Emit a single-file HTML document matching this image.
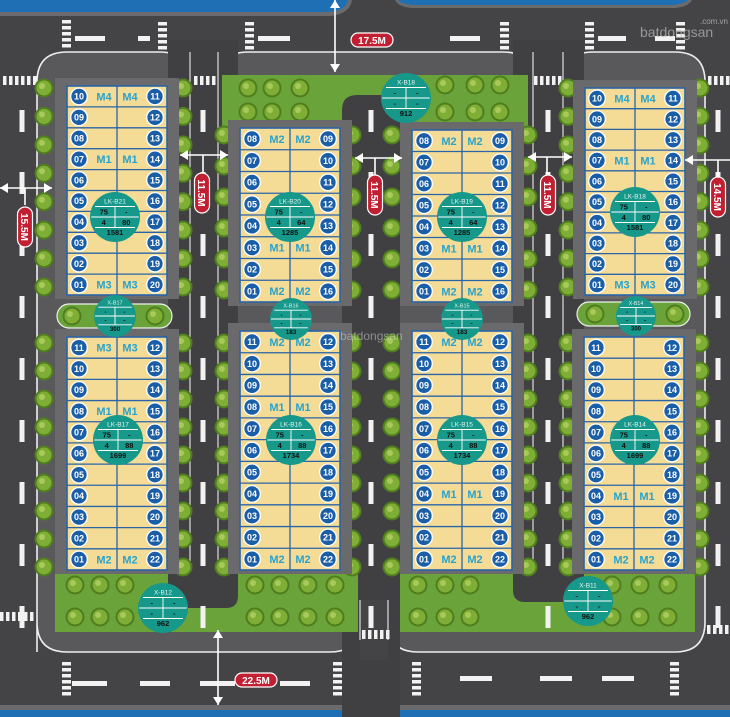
<!DOCTYPE html>
<html><head><meta charset="utf-8"><style>
html,body{margin:0;padding:0;background:#454547;}
svg{display:block}
text{font-family:"Liberation Sans",sans-serif;}
</style></head><body>
<svg id="s" width="730" height="717" viewBox="0 0 730 717" xmlns="http://www.w3.org/2000/svg"></svg>
<script>
var o=[];
function a(s){o.push(s);}
// background road
a('<rect x="0" y="0" width="730" height="717" fill="#444446"/>');
// blue top
a('<path d="M0 0 H352 Q350 14 330 16 H0 Z" fill="#6b6b6d"/>');
a('<path d="M0 0 H348 Q346 11 328 12 H0 Z" fill="#1f6fb5"/>');
a('<path d="M395 0 H692 Q688 7 675 8 H412 Q398 7 395 0Z" fill="#6b6b6d"/>');
a('<path d="M398 0 H688 Q684 4 672 5 H414 Q401 4 398 0Z" fill="#1f6fb5"/>');
// blue bottom
a('<rect x="0" y="705" width="730" height="12" fill="#6b6b6d"/>');
a('<rect x="0" y="710" width="730" height="7" fill="#1f6fb5"/>');
// islands
var isl='fill="#59595b" stroke="#eeeeee" stroke-width="1.6"';
a('<path d="M37 652 V82 Q37 52 67 52 H160 Q190 52 190 82 V570 H218 V82 Q218 52 248 52 H503 Q533 52 533 82 V570 H563 V82 Q563 52 593 52 H675 Q705 52 705 82 V622 Q705 652 675 652 H418 Q388 652 388 622 V600 H360 V622 Q360 652 330 652 H67 Q37 652 37 622Z" '+isl+'/>');
// road cutouts
a('<path d="M168 40 V596 Q168 608 180 608 H226 Q238 608 238 596 V40Z" fill="#404042"/>');
a('<path d="M513 40 V590 Q513 602 525 602 H572 Q584 602 584 590 V40Z" fill="#404042"/>');
a('<path d="M342 717 V110 Q342 95 357 95 H385 Q400 95 400 110 V717Z" fill="#404042"/>');
a('<rect x="360" y="600" width="28" height="60" fill="#444446"/>');
// curb lines
[[190,52,570],[218,52,570],[533,52,570],[563,52,570]].forEach(function(l){a('<line x1="'+l[0]+'" y1="'+l[1]+'" x2="'+l[0]+'" y2="'+l[2]+'" stroke="#dddddd" stroke-width="1.2"/>');});
a('<line x1="360" y1="600" x2="360" y2="640" stroke="#ddd" stroke-width="1.2"/><line x1="388" y1="600" x2="388" y2="640" stroke="#ddd" stroke-width="1.2"/>');
// green parks
var g='#6aa33a';
a('<path d="M222 75 H528 V128 H400 V110 Q400 95 385 95 H357 Q342 95 342 110 V128 H222Z" fill="'+g+'"/>');
a('<path d="M55 570 H168 V596 Q168 608 180 608 H226 Q238 608 238 596 V570 H358 V632 H55Z" fill="'+g+'"/>');
a('<path d="M400 570 H513 V590 Q513 602 525 602 H572 Q584 602 584 590 V570 H695 V632 H400Z" fill="'+g+'"/>');
a('<rect x="57" y="304" width="115" height="24" rx="12" fill="'+g+'" stroke="#eee" stroke-width="1.2"/>');
a('<rect x="577" y="302" width="113" height="24" rx="12" fill="'+g+'" stroke="#eee" stroke-width="1.2"/>');
// road markings
function r(x,y,w,h){a('<rect x="'+x+'" y="'+y+'" width="'+w+'" height="'+h+'" fill="#f2f2f2"/>');}
[[75,30],[138,12],[258,32],[450,30],[598,28],[655,20]].forEach(function(d){r(d[0],36,d[1],5);});
[[72,35],[140,30],[200,35],[280,30]].forEach(function(d){r(d[0],681,d[1],5);});
[[460,32],[540,32],[602,32]].forEach(function(d){r(d[0],676,d[1],5);});
function cwV(x,y,n){for(var i=0;i<n;i++)r(x,y+i*6,9,3.5);}
function cwH(x,y,n){for(var i=0;i<n;i++)r(x+i*6,y,3.5,9);}
cwV(62,20,5);cwV(158,22,5);cwV(245,22,5);cwV(500,22,5);cwV(585,22,5);cwV(676,22,5);
cwV(62,662,6);cwV(333,662,6);cwV(412,662,6);cwV(670,662,6);
cwH(3,76,6);cwH(194,76,4);cwH(534,76,5);cwH(708,76,4);cwH(0,612,6);cwH(362,630,5);cwH(707,625,4);
// vertical dashes
[22,203,371,548,718].forEach(function(x){for(var y=110;y<640;y+=62)r(x-2.5,y,5,22);});
// block pads
function pad(x,y,w,h){a('<rect x="'+(x-12)+'" y="'+(y-8)+'" width="'+(w+24)+'" height="'+(h+12)+'" fill="#6a6a6c"/>');}
// trees
function tree(x,y){a('<circle cx="'+x+'" cy="'+y+'" r="9.5" fill="#4f7d1f"/><circle cx="'+x+'" cy="'+y+'" r="7.5" fill="#7fae36"/><circle cx="'+(x-2)+'" cy="'+(y-2)+'" r="3" fill="#a9c95a"/>');}
function trees(x,y0,y1,n){for(var i=0;i<n;i++)tree(x,y0+(y1-y0)*i/(n-1));}
// blocks
function num(x,y,t){a('<circle cx="'+x+'" cy="'+y+'" r="8.3" fill="#1b5ea8" stroke="#fff" stroke-width="1.3"/><text x="'+x+'" y="'+(y+3.2)+'" font-size="9" font-weight="bold" fill="#fff" text-anchor="middle">'+t+'</text>');}
function p2(n){return (n<10?'0':'')+n;}
function block(x,y,w,h,n,leftStart,rightStart,labels){
 pad(x,y,w,h);
 a('<rect x="'+x+'" y="'+y+'" width="'+w+'" height="'+h+'" fill="#f4dc96" stroke="#2a64a8" stroke-width="1.6"/>');
 var rh=h/n;
 for(var i=1;i<n;i++)a('<line x1="'+x+'" y1="'+(y+i*rh)+'" x2="'+(x+w)+'" y2="'+(y+i*rh)+'" stroke="#2a64a8" stroke-width="1.3"/>');
 a('<line x1="'+(x+w/2)+'" y1="'+y+'" x2="'+(x+w/2)+'" y2="'+(y+h)+'" stroke="#2a64a8" stroke-width="1.3"/>');
 for(var i=0;i<n;i++){var cy=y+rh*i+rh/2;num(x+12,cy,p2(leftStart-i));num(x+w-12,cy,p2(rightStart+i));
  if(labels[i]){a('<text x="'+(x+w/2-13)+'" y="'+(cy+4)+'" font-size="11" font-weight="bold" fill="#2aa3cc" text-anchor="middle">'+labels[i]+'</text><text x="'+(x+w/2+13)+'" y="'+(cy+4)+'" font-size="11" font-weight="bold" fill="#2aa3cc" text-anchor="middle">'+labels[i]+'</text>');}}
}
// trees first (under blocks? they are beside)
trees(44,88,287,8);trees(183,88,287,8);
trees(44,343,567,9);trees(183,343,567,9);
trees(224,135,290,6);trees(352,135,290,6);
trees(224,343,567,9);trees(352,343,567,9);
trees(392,135,290,6);trees(528,135,290,6);
trees(392,343,567,9);trees(528,343,567,9);
trees(568,88,287,8);trees(700,88,287,8);
trees(568,343,567,9);trees(700,343,567,9);
// park trees
[[248,88],[272,88],[300,88],[248,112],[272,112],[300,112],[445,85],[475,85],[500,85],[445,112],[475,112],[500,112],[75,585],[100,585],[125,585],[75,617],[100,617],[125,617],[255,585],[280,585],[308,585],[335,585],[255,617],[280,617],[308,617],[335,617],[418,585],[445,585],[470,585],[418,617],[445,617],[470,617],[612,585],[640,585],[668,585],[612,617],[640,617],[668,617],[72,316],[155,316],[595,314],[675,314]].forEach(function(t){tree(t[0],t[1]);});
block(67,86,100,209,10,10,11,{0:'M4',3:'M1',9:'M3'});
block(67,337,100,233,11,11,12,{0:'M3',3:'M1',10:'M2'});
block(240,128,100,174,8,8,9,{0:'M2',5:'M1',7:'M2'});
block(240,331,100,239,11,11,12,{0:'M2',3:'M1',10:'M2'});
block(412,130,100,172,8,8,9,{0:'M2',5:'M1',7:'M2'});
block(412,331,100,239,11,11,12,{0:'M2',7:'M1',10:'M2'});
block(585,88,100,207,10,10,11,{0:'M4',3:'M1',9:'M3'});
block(584,337,100,233,11,11,12,{7:'M1',10:'M2'});
// circles
function circ(cx,cy,rr,name,c,bot){
 a('<circle cx="'+cx+'" cy="'+cy+'" r="'+rr+'" fill="#16988a"/>');
 var fs=rr*0.26;
 a('<text x="'+cx+'" y="'+(cy-rr*0.55)+'" font-size="'+fs+'" fill="#e8f5f2" text-anchor="middle">'+name+'</text>');
 a('<line x1="'+(cx-rr*0.8)+'" y1="'+(cy-rr*0.42)+'" x2="'+(cx+rr*0.8)+'" y2="'+(cy-rr*0.42)+'" stroke="#fff" stroke-width="0.9"/>');
 a('<line x1="'+(cx-rr*0.95)+'" y1="'+cy+'" x2="'+(cx+rr*0.95)+'" y2="'+cy+'" stroke="#fff" stroke-width="0.9"/>');
 a('<line x1="'+(cx-rr*0.8)+'" y1="'+(cy+rr*0.42)+'" x2="'+(cx+rr*0.8)+'" y2="'+(cy+rr*0.42)+'" stroke="#fff" stroke-width="0.9"/>');
 a('<line x1="'+cx+'" y1="'+(cy-rr*0.42)+'" x2="'+cx+'" y2="'+(cy+rr*0.42)+'" stroke="#fff" stroke-width="0.9"/>');
 var fz=rr*0.3;
 a('<text x="'+(cx-rr*0.45)+'" y="'+(cy-rr*0.1)+'" font-size="'+fz+'" font-weight="bold" fill="#111" text-anchor="middle">'+c[0]+'</text>');
 a('<text x="'+(cx+rr*0.45)+'" y="'+(cy-rr*0.1)+'" font-size="'+fz+'" font-weight="bold" fill="#111" text-anchor="middle">'+c[1]+'</text>');
 a('<text x="'+(cx-rr*0.45)+'" y="'+(cy+rr*0.32)+'" font-size="'+fz+'" font-weight="bold" fill="#111" text-anchor="middle">'+c[2]+'</text>');
 a('<text x="'+(cx+rr*0.45)+'" y="'+(cy+rr*0.32)+'" font-size="'+fz+'" font-weight="bold" fill="#111" text-anchor="middle">'+c[3]+'</text>');
 a('<text x="'+cx+'" y="'+(cy+rr*0.72)+'" font-size="'+fz+'" font-weight="bold" fill="#111" text-anchor="middle">'+bot+'</text>');
}
circ(115,217,25,'LK-B21',['75','-','4','80'],'1581');
circ(290,217,25,'LK-B20',['75','-','4','64'],'1285');
circ(462,217,25,'LK-B19',['75','-','4','64'],'1285');
circ(635,212,25,'LK-B18',['75','-','4','80'],'1581');
circ(118,440,25,'LK-B17',['75','-','4','88'],'1699');
circ(291,440,25,'LK-B16',['75','-','4','88'],'1734');
circ(462,440,25,'LK-B15',['75','-','4','88'],'1734');
circ(635,440,25,'LK-B14',['75','-','4','88'],'1699');
circ(115,316,21,'X-B17',['-','-','-','-'],'300');
circ(291,319,21,'X-B16',['-','-','-','-'],'183');
circ(462,319,21,'X-B15',['-','-','-','-'],'183');
circ(636,316,20,'X-B14',['-','-','-','-'],'300');
circ(406,98,25,'X-B18',['-','-','-','-'],'912');
circ(163,608,25,'X-B12',['-','-','-','-'],'962');
circ(588,601,25,'X-B11',['-','-','-','-'],'962');
// arrows
function arrH(x1,x2,y){a('<line x1="'+x1+'" y1="'+y+'" x2="'+x2+'" y2="'+y+'" stroke="#fff" stroke-width="1.6"/><path d="M'+x1+' '+y+' l8 -5 v10z M'+x2+' '+y+' l-8 -5 v10z" fill="#fff"/>');}
function arrV(x,y1,y2){a('<line x1="'+x+'" y1="'+y1+'" x2="'+x+'" y2="'+y2+'" stroke="#fff" stroke-width="1.6"/><path d="M'+x+' '+y1+' l-5 8 h10z M'+x+' '+y2+' l-5 -8 h10z" fill="#fff"/>');}
arrH(0,52,188);a('<line x1="25" y1="188" x2="25" y2="205" stroke="#fff" stroke-width="1.6"/>');
arrH(180,228,155);a('<line x1="203" y1="155" x2="203" y2="175" stroke="#fff" stroke-width="1.6"/>');
arrH(355,402,158);a('<line x1="375" y1="158" x2="375" y2="175" stroke="#fff" stroke-width="1.6"/>');
arrH(528,572,157);a('<line x1="547" y1="157" x2="547" y2="175" stroke="#fff" stroke-width="1.6"/>');
a('<line x1="685" y1="160" x2="730" y2="160" stroke="#fff" stroke-width="1.6"/><path d="M685 160 l8 -5 v10z" fill="#fff"/><line x1="718" y1="160" x2="718" y2="178" stroke="#fff" stroke-width="1.6"/>');
arrV(335,0,72);
arrV(218,630,705);
// dimension pills
function pillV(cx,cy,t){a('<g transform="translate('+cx+','+cy+') rotate(90)"><rect x="-20" y="-7.5" width="40" height="15" rx="7.5" fill="#c21f32" stroke="#fff" stroke-width="1.2"/><text x="0" y="4" font-size="10" font-weight="bold" fill="#fff" text-anchor="middle">'+t+'</text></g>');}
function pillH(cx,cy,t){a('<rect x="'+(cx-21)+'" y="'+(cy-7)+'" width="42" height="14" rx="7" fill="#c21f32" stroke="#fff" stroke-width="1.2"/><text x="'+cx+'" y="'+(cy+3.8)+'" font-size="10" font-weight="bold" fill="#fff" text-anchor="middle">'+t+'</text>');}
pillV(25,227,'15.5M');pillV(202,193,'11.5M');pillV(375,195,'11.5M');pillV(548,195,'11.5M');pillV(718,197,'14.5M');
pillH(372,40,'17.5M');pillH(256,680,'22.5M');
// watermark
a('<text x="700" y="24" font-size="8" fill="#bbb" opacity="0.8">.com.vn</text><text x="640" y="37" font-size="14" fill="#bbb" opacity="0.7">batdongsan</text>');
a('<text x="340" y="340" font-size="12" fill="#ddd" opacity="0.5">batdongsan</text>');
document.getElementById('s').innerHTML=o.join('');
</script>
</body></html>
